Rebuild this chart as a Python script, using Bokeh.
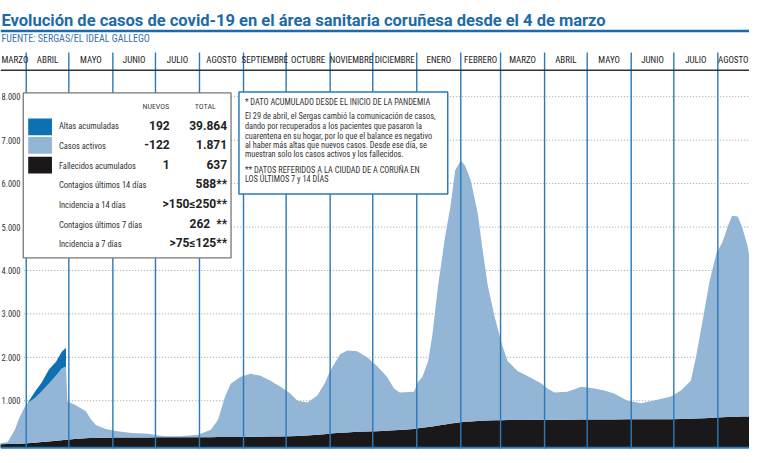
import pandas as pd
from bokeh.plotting import figure
from bokeh.models import Range1d, Label
from bokeh.embed import file_html
from bokeh.resources import INLINE

# ---------------- data ----------------
dates = ["2020-03-13", "2020-03-19", "2020-03-24", "2020-03-27", "2020-03-31", "2020-04-02",
         "2020-04-07", "2020-04-12", "2020-04-17", "2020-04-22", "2020-04-26", "2020-04-29",
         "2020-04-30", "2020-05-05", "2020-05-13", "2020-05-16", "2020-05-20", "2020-05-27",
         "2020-06-03", "2020-06-14", "2020-06-26", "2020-07-03", "2020-07-08", "2020-07-19",
         "2020-07-31", "2020-08-09", "2020-08-14", "2020-08-19", "2020-08-23", "2020-08-30",
         "2020-09-06", "2020-09-13", "2020-09-20", "2020-09-27", "2020-10-04", "2020-10-09",
         "2020-10-16", "2020-10-23", "2020-10-28", "2020-11-01", "2020-11-08", "2020-11-13",
         "2020-11-20", "2020-11-27", "2020-12-04", "2020-12-11", "2020-12-16", "2020-12-20",
         "2020-12-30", "2021-01-02", "2021-01-05", "2021-01-09", "2021-01-12", "2021-01-16",
         "2021-01-21", "2021-01-25", "2021-01-28", "2021-02-01", "2021-02-04", "2021-02-08",
         "2021-02-13", "2021-02-16", "2021-02-20", "2021-02-25", "2021-03-02", "2021-03-06",
         "2021-03-13", "2021-03-20", "2021-03-30", "2021-04-03", "2021-04-08", "2021-04-17",
         "2021-04-27", "2021-05-06", "2021-05-13", "2021-05-20", "2021-05-29", "2021-06-08",
         "2021-06-17", "2021-06-29", "2021-07-06", "2021-07-13", "2021-07-17", "2021-07-22",
         "2021-07-26", "2021-07-31", "2021-08-04", "2021-08-08", "2021-08-11", "2021-08-15",
         "2021-08-18", "2021-08-22", "2021-08-24"]

fallecidos = [0, 2, 5, 10, 18, 22, 35, 48, 65, 80, 92, 100,
              102, 120, 135, 140, 145, 150, 152, 155, 157, 158, 158, 159,
              160, 162, 163, 165, 166, 168, 170, 172, 175, 178, 185, 190,
              200, 215, 230, 245, 262, 272, 285, 292, 300, 310, 320, 328,
              350, 365, 380, 395, 410, 430, 455, 475, 490, 505, 515, 525,
              535, 540, 545, 550, 553, 555, 557, 558, 560, 561, 562, 564,
              566, 568, 569, 570, 572, 574, 575, 577, 580, 585, 590, 598,
              605, 612, 618, 624, 628, 632, 635, 637, 637]

activos = [20, 48, 325, 590, 842, 928, 1025, 1172, 1335, 1500, 1648, 1690,
           883, 795, 625, 460, 295, 200, 153, 105, 83, 40, 25, 25,
           55, 168, 392, 935, 1224, 1382, 1450, 1403, 1285, 1142, 980, 810,
           760, 905, 1160, 1440, 1808, 1888, 1855, 1708, 1500, 1240, 960, 862,
           860, 1070, 1170, 1515, 2110, 3220, 4330, 5055, 5810, 6025, 5900, 5550,
           4770, 4020, 3110, 2360, 1742, 1355, 1128, 1012, 830, 719, 628, 646,
           759, 712, 666, 595, 433, 366, 430, 523, 655, 875, 1480, 2377,
           3115, 3788, 4012, 4386, 4632, 4608, 4375, 3923, 3513]

# altas acumuladas shown until 29 April 2020 (dates[5:12])
altas_first = 5
altas = [0, 140, 205, 320, 320, 390, 430]

month_names = ["MARZO", "ABRIL", "MAYO", "JUNIO", "JULIO", "AGOSTO", "SEPTIEMBRE", "OCTUBRE",
               "NOVIEMBRE", "DICIEMBRE", "ENERO", "FEBRERO", "MARZO", "ABRIL", "MAYO", "JUNIO",
               "JULIO", "AGOSTO"]
month_starts = ["2020-03-01", "2020-04-01", "2020-05-01", "2020-06-01", "2020-07-01", "2020-08-01",
                "2020-09-01", "2020-10-01", "2020-11-01", "2020-12-01", "2021-01-01", "2021-02-01",
                "2021-03-01", "2021-04-01", "2021-05-01", "2021-06-01", "2021-07-01", "2021-08-01",
                "2021-09-01"]

grid_values = [1000, 2000, 3000, 4000, 5000, 6000, 7000, 8000]
grid_labels = ["1.000", "2.000", "3.000", "4.000", "5.000", "6.000", "7.000", "8.000"]

legend_names = ["Altas acumuladas", "Casos activos", "Fallecidos acumulados"]
legend_new = ["192", "-122", "1"]
legend_total = ["39.864", "1.871", "637"]
extra_names = ["Contagios últimos 14 días", "Incidencia a 14 días", "Contagios últimos 7 días",
               "Incidencia a 7 días"]
extra_values = ["588**", ">150≤250**", "262", ">75≤125**"]

note_lines = ["* DATO ACUMULADO DESDE EL INICIO DE LA PANDEMIA",
              "El 29 de abril, el Sergas cambió la comunicación de casos,",
              "dando por recuperados a los pacientes que pasaron la",
              "cuarentena en su hogar, por lo que el balance es negativo",
              "al haber más altas que nuevos casos. Desde ese día, se",
              "muestran solo los casos activos y los fallecidos.",
              "** DATOS REFERIDOS A LA CIUDAD DE A CORUÑA EN",
              "LOS ÚLTIMOS 7 y 14 DÍAS"]

title_text = "Evolución de casos de covid-19 en el área sanitaria coruñesa desde el 4 de marzo"
source_text = "FUENTE: SERGAS/EL IDEAL GALLEGO"

# ---------------- helpers ----------------
ORIGIN = pd.Timestamp("2020-03-01")


def day(s):
    return (pd.Timestamp(s) - ORIGIN).days


W_REF, H_REF = 757, 463
PX_PER_DAY = (725 - 26) / (day("2021-08-01") - day("2020-04-01"))
X0 = day("2020-04-01") - 26 / PX_PER_DAY
X1 = X0 + W_REF / PX_PER_DAY
ZERO_PX, PX_PER_1000 = 451.5, 44.2


def X(px):
    return X0 + px / PX_PER_DAY


def Y(py):
    return (ZERO_PX - py) / PX_PER_1000 * 1000


BASELINE = Y(455)

LIGHT = "#93b5d6"
DARK = "#0d70b2"
BLACK = "#1b1819"
LINEBLUE = "#2a7ab9"
TITLEBLUE = "#1c6aac"
COND = "Roboto Condensed"
BOLD = "Roboto"

xd = [day(d) for d in dates]
top_f = fallecidos
top_a = [f + a for f, a in zip(fallecidos, activos)]
xa = xd[altas_first:altas_first + len(altas)]
base_h = top_a[altas_first:altas_first + len(altas)]
top_h = [b + h for b, h in zip(base_h, altas)]

p = figure(width=749, height=455, x_range=Range1d(X0, X1), y_range=Range1d(Y(H_REF), Y(0)),
           output_backend="svg", toolbar_location=None, min_border=0,
           x_axis_location=None, y_axis_location=None)
p.grid.visible = False
p.outline_line_color = None
p.background_fill_color = "white"

# gridlines
p.segment(x0=[X(24)] * len(grid_values), x1=[X1] * len(grid_values), y0=grid_values, y1=grid_values,
          line_color="#9a9a9a", line_dash="1 2", line_width=1)
for gv, gl in zip(grid_values, grid_labels):
    p.add_layout(Label(x=X(1), y=gv, text=gl, text_align="left", text_baseline="middle",
                       text_font=COND, text_font_size="8.5px", text_color="#333333"))

# areas
p.varea(x=xd, y1=BASELINE, y2=top_f, fill_color=BLACK)
p.varea(x=xd, y1=top_f, y2=top_a, fill_color=LIGHT)
p.varea(x=xa, y1=base_h, y2=top_h, fill_color=DARK)

# month lines & labels
ms = [day(m) for m in month_starts]
inner = ms[1:-1]
p.segment(x0=inner, x1=inner, y0=[Y(53)] * len(inner), y1=[Y(456)] * len(inner),
          line_color=LINEBLUE, line_width=1.4)
p.segment(x0=[X0], x1=[X1], y0=[Y(71)], y1=[Y(71)], line_color="#333333", line_width=1.5)
p.segment(x0=[X0], x1=[X1], y0=[BASELINE], y1=[BASELINE], line_color=LINEBLUE, line_width=2)

for i, name in enumerate(month_names):
    c = (ms[i] + ms[i + 1]) / 2
    align = "center"
    if i == 0:
        c, align = X(1), "left"
    elif i == len(month_names) - 1:
        c, align = X(756), "right"
    p.add_layout(Label(x=c, y=Y(61), text=name, text_align=align, text_baseline="middle",
                       text_font=COND, text_font_size="9px", text_color="#222222"))

# title & source
p.add_layout(Label(x=X(1), y=Y(20), text=title_text, text_align="left", text_baseline="middle",
                   text_font=BOLD, text_font_style="bold", text_font_size="16.5px",
                   text_color=TITLEBLUE))
p.segment(x0=[X0], x1=[X1], y0=[Y(31)], y1=[Y(31)], line_color=TITLEBLUE, line_width=2.5)
p.add_layout(Label(x=X(1), y=Y(39), text=source_text, text_align="left", text_baseline="middle",
                   text_font=COND, text_font_size="10px", text_color="#3a72a8"))

# legend box
p.quad(left=[X(23)], right=[X(233)], top=[Y(94)], bottom=[Y(262)], fill_color="white",
       line_color="#777777", line_width=1.3)
p.quad(left=[X(28)] * 3, right=[X(52)] * 3, top=[Y(120), Y(139), Y(159)],
       bottom=[Y(137), Y(156), Y(176)], fill_color=[DARK, LIGHT, BLACK], line_color=None)
for txt, px in (("NUEVOS", 157), ("TOTAL", 207)):
    p.add_layout(Label(x=X(px), y=Y(108), text=txt, text_align="center", text_baseline="middle",
                       text_font=COND, text_font_size="8px", text_color="#444444"))
rows_y = [128, 148, 168]
for name, new, tot, py in zip(legend_names, legend_new, legend_total, rows_y):
    p.add_layout(Label(x=X(59), y=Y(py), text=name, text_align="left", text_baseline="middle",
                       text_font=COND, text_font_size="8.5px", text_color="#333333"))
    p.add_layout(Label(x=X(171), y=Y(py - 1), text=new, text_align="right", text_baseline="middle",
                       text_font=BOLD, text_font_style="bold", text_font_size="12px",
                       text_color="#222222"))
    p.add_layout(Label(x=X(229), y=Y(py - 1), text=tot, text_align="right", text_baseline="middle",
                       text_font=BOLD, text_font_style="bold", text_font_size="12px",
                       text_color="#222222"))
extra_y = [188, 208, 228, 248]
for name, val, py in zip(extra_names, extra_values, extra_y):
    p.add_layout(Label(x=X(59), y=Y(py), text=name, text_align="left", text_baseline="middle",
                       text_font=COND, text_font_size="8.5px", text_color="#333333"))
    p.add_layout(Label(x=X(229 if val != "262" else 212), y=Y(py - 1), text=val,
                       text_align="right", text_baseline="middle", text_font=BOLD,
                       text_font_style="bold", text_font_size="12px", text_color="#222222"))
p.add_layout(Label(x=X(229), y=Y(227), text="**", text_align="right", text_baseline="middle",
                   text_font=BOLD, text_font_style="bold", text_font_size="12px",
                   text_color="#222222"))

# note box
p.quad(left=[X(241)], right=[X(452)], top=[Y(93)], bottom=[Y(197)], fill_color="white",
       line_color=LINEBLUE, line_width=1.5)
note_y = [103, 118, 128, 138, 147, 156, 172, 182]
for line, py in zip(note_lines, note_y):
    p.add_layout(Label(x=X(247), y=Y(py), text=line, text_align="left", text_baseline="middle",
                       text_font=COND, text_font_size="8.3px", text_color="#333333"))

open("out.html", "w").write(file_html(p, INLINE))
